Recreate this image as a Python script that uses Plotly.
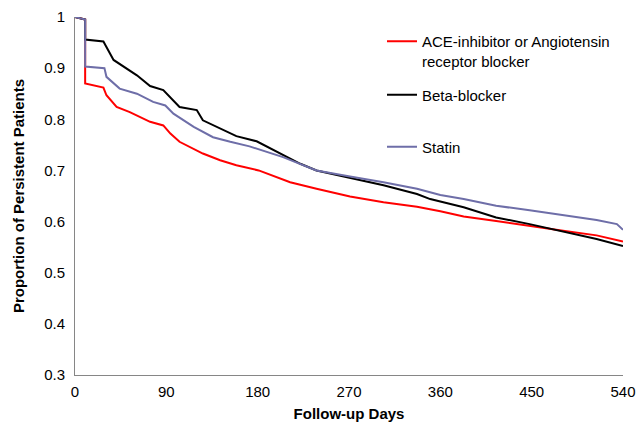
import plotly.graph_objects as go

# ---- data ----
ace_days = [0, 8, 10, 10, 28, 31, 41, 54, 64, 74, 87, 94, 103, 110, 126, 143, 159, 181,
            212, 238, 271, 304, 337, 360, 383, 415, 448, 481, 514, 540]
ace_vals = [1.0, 0.997, 0.995, 0.870, 0.862, 0.847, 0.824, 0.814, 0.805, 0.795, 0.788, 0.772,
            0.756, 0.749, 0.733, 0.720, 0.710, 0.700, 0.677, 0.664, 0.649, 0.638, 0.629,
            0.620, 0.610, 0.601, 0.591, 0.582, 0.573, 0.561]

beta_days = [0, 8, 10, 10, 28, 38, 54, 61, 74, 87, 103, 120, 126, 143, 159, 179, 222, 238,
             271, 304, 337, 350, 383, 415, 448, 481, 514, 540]
beta_vals = [1.0, 0.997, 0.995, 0.956, 0.952, 0.916, 0.896, 0.886, 0.865, 0.857, 0.824, 0.818,
             0.798, 0.782, 0.767, 0.757, 0.713, 0.700, 0.686, 0.671, 0.654, 0.644, 0.628,
             0.608, 0.595, 0.581, 0.566, 0.552]

statin_days = [0, 8, 10, 10, 29, 31, 44, 61, 77, 89, 97, 117, 136, 153, 172, 205, 238, 271,
               304, 337, 360, 383, 415, 448, 481, 514, 534, 540]
statin_vals = [1.0, 0.997, 0.995, 0.903, 0.900, 0.883, 0.860, 0.850, 0.834, 0.827, 0.811,
               0.785, 0.765, 0.756, 0.747, 0.726, 0.700, 0.688, 0.677, 0.664, 0.652, 0.644,
               0.631, 0.622, 0.612, 0.603, 0.595, 0.584]

x_ticks = [0, 90, 180, 270, 360, 450, 540]
y_ticks = [0.3, 0.4, 0.5, 0.6, 0.7, 0.8, 0.9, 1]
y_tick_text = ["0.3", "0.4", "0.5", "0.6", "0.7", "0.8", "0.9", "1"]

FONT = "Liberation Sans, Arial, sans-serif"
W, H = 636, 422

fig = go.Figure()
fig.add_trace(go.Scatter(x=ace_days, y=ace_vals, mode="lines",
                         name="ACE-inhibitor or Angiotensin<br>receptor blocker",
                         line=dict(color="#FF0000", width=2), legend="legend"))
fig.add_trace(go.Scatter(x=beta_days, y=beta_vals, mode="lines", name="Beta-blocker",
                         line=dict(color="#000000", width=2), legend="legend2"))
fig.add_trace(go.Scatter(x=statin_days, y=statin_vals, mode="lines", name="Statin",
                         line=dict(color="#6E6EA8", width=2), legend="legend3"))

leg_common = dict(font=dict(family=FONT, size=15, color="#000"), bgcolor="rgba(0,0,0,0)",
                  xref="container", yref="container", xanchor="left", yanchor="middle",
                  itemwidth=30, valign="top")

fig.update_layout(
    width=W, height=H,
    margin=dict(l=75, r=13, t=17, b=47, autoexpand=False),
    paper_bgcolor="white", plot_bgcolor="white",
    font=dict(family=FONT, size=15, color="#000"),
    showlegend=True,
    legend=dict(**leg_common, x=382 / W, y=1 - 51 / H),
    legend2=dict(**leg_common, x=382 / W, y=1 - 95 / H),
    legend3=dict(**leg_common, x=382 / W, y=1 - 147 / H),
    xaxis=dict(range=[0, 540], tickvals=x_ticks, showgrid=False, zeroline=False,
               showline=True, linecolor="#868686", linewidth=1,
               ticks="outside", ticklen=3, tickcolor="rgba(0,0,0,0)",
               tickfont=dict(family=FONT, size=15),
               title=dict(text="<b>Follow-up Days</b>", font=dict(family=FONT, size=15),
                          standoff=12)),
    yaxis=dict(range=[0.3, 1], tickvals=y_ticks, ticktext=y_tick_text, showgrid=False,
               zeroline=False, showline=True, linecolor="#868686", linewidth=1,
               ticks="outside", ticklen=6, tickcolor="rgba(0,0,0,0)",
               tickfont=dict(family=FONT, size=15),
               title=dict(text="<b>Proportion of Persistent Patients</b>",
                          font=dict(family=FONT, size=15), standoff=15)),
)

# remove the default page margin so the 636x422 figure fills the window exactly
fig.write_html("out.html",
               config={"displayModeBar": False},
               post_script="document.body.style.margin='0';document.body.style.overflow='hidden';")
